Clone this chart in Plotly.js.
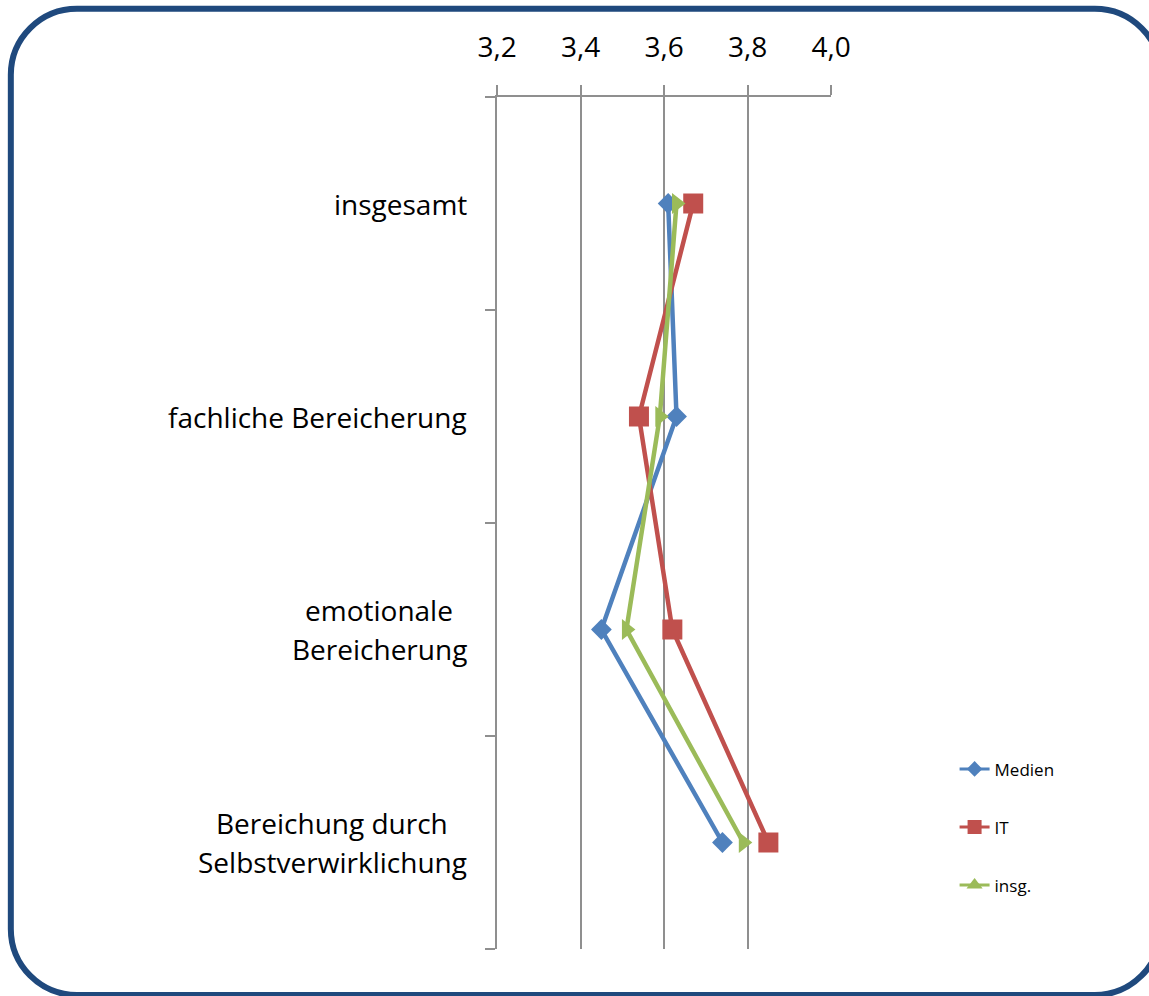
<!DOCTYPE html>
<html>
<head>
<meta charset="utf-8">
<script src="https://cdn.plot.ly/plotly-3.0.1.min.js"></script>
<style>
  html, body { margin: 0; padding: 0; background: #fff; }
  #chart { width: 1149px; height: 996px; }
</style>
</head>
<body>
<div id="chart"></div>
<script>
// Kategorien (von oben nach unten)
const categories = [
  'insgesamt',
  'fachliche Bereicherung',
  'emotionale <br>Bereicherung',
  'Bereichung durch <br>Selbstverwirklichung'
];

// Mittelwerte je Gruppe
const medien = [3.61, 3.63, 3.45, 3.74];
const it     = [3.67, 3.54, 3.62, 3.85];
const insg   = [3.63, 3.59, 3.51, 3.79];

const seriesNames  = ['Medien', 'IT', 'insg.'];
const seriesColors = ['#4F81BD', '#C0504D', '#9BBB59'];
const xTicks = [3.2, 3.4, 3.6, 3.8, 4.0];

const FONT = '"Open Sans", sans-serif';
const LABEL_SIZE = 28;
const idx = categories.map((_, i) => i);

function series(vals, i, symbol, size) {
  return {
    type: 'scatter', mode: 'lines+markers',
    x: vals, y: idx, name: seriesNames[i], showlegend: false,
    line: { color: seriesColors[i], width: 4.5 },
    marker: { color: seriesColors[i], symbol: symbol, size: size },
    hoverinfo: 'x+name'
  };
}

// Legendeneinträge (Dreieck aufrecht)
function legendEntry(i, symbol, size) {
  return {
    type: 'scatter', mode: 'lines+markers',
    x: [null], y: [null], name: seriesNames[i], legendgroup: 'g' + i,
    line: { color: seriesColors[i], width: 3 },
    marker: { color: seriesColors[i], symbol: symbol, size: size }
  };
}

const traces = [
  series(medien, 0, 'diamond', 16),
  series(it, 1, 'square', 20),
  series(insg, 2, 'triangle-right', 18),
  legendEntry(0, 'diamond', 12),
  legendEntry(1, 'square', 14),
  legendEntry(2, 'triangle-up', 14)
];

// Rahmen mit abgerundeten Ecken (Pixel -> Papierkoordinaten)
const L = 497.3, R = 830.7, T = 97.3, B = 949;
const px = v => ((v - L) / (R - L)).toFixed(5);
const py = v => ((B - v) / (B - T)).toFixed(5);
function roundRect(x0, y0, x1, y1, r) {
  const k = 0.5523 * r;
  return 'M' + px(x0 + r) + ',' + py(y0) +
    ' L' + px(x1 - r) + ',' + py(y0) +
    ' C' + px(x1 - r + k) + ',' + py(y0) + ' ' + px(x1) + ',' + py(y0 + r - k) + ' ' + px(x1) + ',' + py(y0 + r) +
    ' L' + px(x1) + ',' + py(y1 - r) +
    ' C' + px(x1) + ',' + py(y1 - r + k) + ' ' + px(x1 - r + k) + ',' + py(y1) + ' ' + px(x1 - r) + ',' + py(y1) +
    ' L' + px(x0 + r) + ',' + py(y1) +
    ' C' + px(x0 + r - k) + ',' + py(y1) + ' ' + px(x0) + ',' + py(y1 - r + k) + ' ' + px(x0) + ',' + py(y1 - r) +
    ' L' + px(x0) + ',' + py(y0 + r) +
    ' C' + px(x0) + ',' + py(y0 + r - k) + ' ' + px(x0 + r - k) + ',' + py(y0) + ' ' + px(x0 + r) + ',' + py(y0) + ' Z';
}

// Kategoriebeschriftungen: je Zeile eine Annotation, Zeilen zentriert, Block rechtsbündig
const LINE_GAP = 39;
function categoryAnnotations() {
  const measure = document.createElement('canvas').getContext('2d');
  measure.font = LABEL_SIZE + 'px "Open Sans"';
  const out = [];
  categories.forEach((c, i) => {
    const lines = c.split('<br>').map(s => s.trim());
    const widths = lines.map(s => measure.measureText(s).width);
    const wMax = Math.max(...widths);
    lines.forEach((ln, j) => {
      out.push({
        text: ln, xref: 'paper', x: 0, xanchor: 'right',
        xshift: -28 - (wMax - widths[j]) / 2,
        yref: 'y', y: i, yanchor: 'middle', showarrow: false,
        yshift: ((lines.length - 1) / 2 - j) * LINE_GAP,
        font: { family: FONT, size: LABEL_SIZE, color: '#000' }
      });
    });
  });
  return out;
}

const layout = {
  width: 1149, height: 996,
  margin: { l: L, r: 1149 - R, t: T, b: 996 - B, pad: 0 },
  paper_bgcolor: '#fff', plot_bgcolor: '#fff',
  separators: ',.',
  font: { family: FONT, color: '#000' },
  showlegend: true,
  legend: {
    x: 1.37, xanchor: 'left', y: 0.232, yanchor: 'top',
    font: { family: FONT, size: 17, color: '#000' },
    tracegroupgap: 33, bgcolor: 'rgba(0,0,0,0)'
  },
  xaxis: {
    side: 'top', range: [3.2, 4.0], tickvals: xTicks, tickformat: '.1f',
    showgrid: true, gridcolor: '#8f8f8f', gridwidth: 2,
    showline: true, linecolor: '#8f8f8f', linewidth: 2,
    ticks: 'outside', ticklen: 10, tickcolor: '#8f8f8f', tickwidth: 2,
    ticklabelstandoff: 17,
    tickfont: { family: FONT, size: 28, color: '#000' },
    zeroline: false, fixedrange: true
  },
  yaxis: {
    type: 'linear', range: [3.5, -0.5],
    tickvals: [-0.5, 0.5, 1.5, 2.5, 3.5], showticklabels: false,
    ticks: 'outside', ticklen: 10, tickcolor: '#8f8f8f', tickwidth: 2,
    showgrid: false, zeroline: false,
    showline: true, linecolor: '#8f8f8f', linewidth: 2,
    fixedrange: true
  },
  annotations: [],
  shapes: [{
    type: 'path', xref: 'paper', yref: 'paper',
    path: roundRect(12, 9, 1160, 995, 66),
    line: { color: '#1F497D', width: 6 }, fillcolor: 'rgba(0,0,0,0)'
  }]
};

document.fonts.load(LABEL_SIZE + 'px "Open Sans"').then(() => {
  layout.annotations = categoryAnnotations();
  Plotly.newPlot('chart', traces, layout, { displayModeBar: false, staticPlot: true });
});
</script>
</body>
</html>
